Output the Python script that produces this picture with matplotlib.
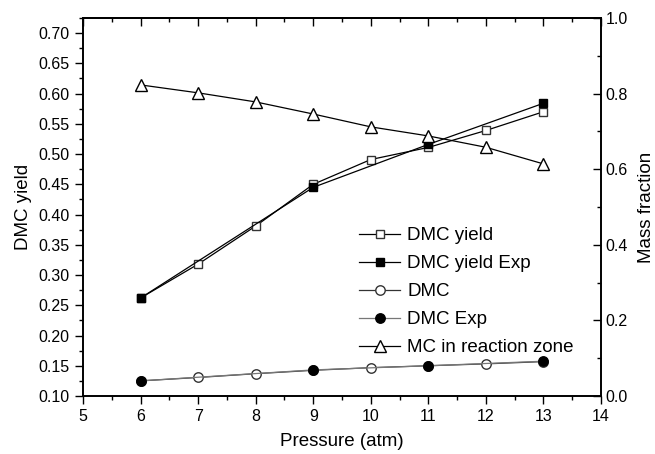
import matplotlib
matplotlib.use("Agg")
import matplotlib.pyplot as plt
from matplotlib.ticker import MultipleLocator, FormatStrFormatter

plt.rcParams['font.family'] = ['Liberation Sans', 'DejaVu Sans']

pressure = [6, 7, 8, 9, 10, 11, 12, 13]
dmc_yield = [0.262, 0.318, 0.381, 0.450, 0.491, 0.511, 0.539, 0.570]
exp_pressure = [6, 9, 11, 13]
dmc_yield_exp = [0.262, 0.445, 0.516, 0.584]
dmc_frac = [0.040, 0.049, 0.059, 0.068, 0.075, 0.080, 0.085, 0.091]
dmc_frac_exp = [0.040, 0.069, 0.080, 0.092]
mc_frac = [0.823, 0.802, 0.778, 0.746, 0.712, 0.688, 0.658, 0.614]

fig = plt.figure(figsize=(6.55, 4.54), dpi=100)
ax = fig.add_axes([83/655, 1-396/454, (601-83)/655, (396-18)/454])
ax2 = ax.twinx()

ms = 6.2
l1, = ax.plot(pressure, dmc_yield, '-', color='black', lw=0.9, marker='s', ms=ms,
              mfc='white', mec='#333333', mew=1.0, label='DMC yield')
l2, = ax.plot(exp_pressure, dmc_yield_exp, '-', color='black', lw=0.9, marker='s', ms=ms,
              mfc='black', mec='black', label='DMC yield Exp')
l3, = ax2.plot(pressure, dmc_frac, '-', color='#333333', lw=0.9, marker='o', ms=ms+0.6,
               mfc='white', mec='#333333', mew=1.0, label='DMC')
l4, = ax2.plot(exp_pressure, dmc_frac_exp, '-', color='#777777', lw=0.9, marker='o', ms=ms+0.6,
               mfc='black', mec='black', label='DMC Exp')
l5, = ax2.plot(pressure, mc_frac, '-', color='black', lw=0.9, marker='^', ms=ms+2,
               mfc='white', mec='black', mew=1.0, label='MC in reaction zone')

ax.set_xlim(5, 14)
ax.set_ylim(0.10, 0.725)
ax2.set_ylim(0.0, 1.0)

ax.xaxis.set_major_locator(MultipleLocator(1))
ax.xaxis.set_minor_locator(MultipleLocator(0.5))
ax.yaxis.set_major_locator(MultipleLocator(0.05))
ax.yaxis.set_minor_locator(MultipleLocator(0.025))
ax2.yaxis.set_major_locator(MultipleLocator(0.2))
ax2.yaxis.set_minor_locator(MultipleLocator(0.1))
ax.yaxis.set_major_formatter(FormatStrFormatter('%.2f'))
ax2.yaxis.set_major_formatter(FormatStrFormatter('%.1f'))

ax.tick_params(axis='x', which='both', direction='out', top=False, labelsize=11.5)
ax.tick_params(axis='y', which='both', direction='out', labelsize=11.5)
ax.tick_params(axis='both', which='major', length=6, width=1)
ax.tick_params(axis='both', which='minor', length=3, width=1)
ax2.tick_params(axis='y', which='both', direction='in', labelsize=11.5)
ax2.tick_params(axis='y', which='major', length=6, width=1)
ax2.tick_params(axis='y', which='minor', length=3, width=1)

top = ax.secondary_xaxis('top')
top.xaxis.set_major_locator(MultipleLocator(1))
top.xaxis.set_minor_locator(MultipleLocator(0.5))
top.tick_params(axis='x', which='both', direction='in', labeltop=False)
top.tick_params(axis='x', which='major', length=6, width=1)
top.tick_params(axis='x', which='minor', length=3, width=1)
top.spines['top'].set_linewidth(1.2)

for sp in list(ax.spines.values()) + list(ax2.spines.values()):
    sp.set_linewidth(1.2)

ax.set_xlabel('Pressure (atm)', fontsize=13.5, labelpad=6)
ax.set_ylabel('DMC yield', fontsize=13.5, labelpad=5)
ax2.set_ylabel('Mass fraction', fontsize=13.5, labelpad=7)

leg = ax2.legend(handles=[l1, l2, l3, l4, l5], loc='upper left',
                 bbox_to_anchor=(359/655, 1-227/454), bbox_transform=fig.transFigure,
                 frameon=False, fontsize=13.5, handlelength=2.2, handletextpad=0.37,
                 labelspacing=0.58, borderpad=0, borderaxespad=0)

fig.savefig('out.png', dpi=100)
